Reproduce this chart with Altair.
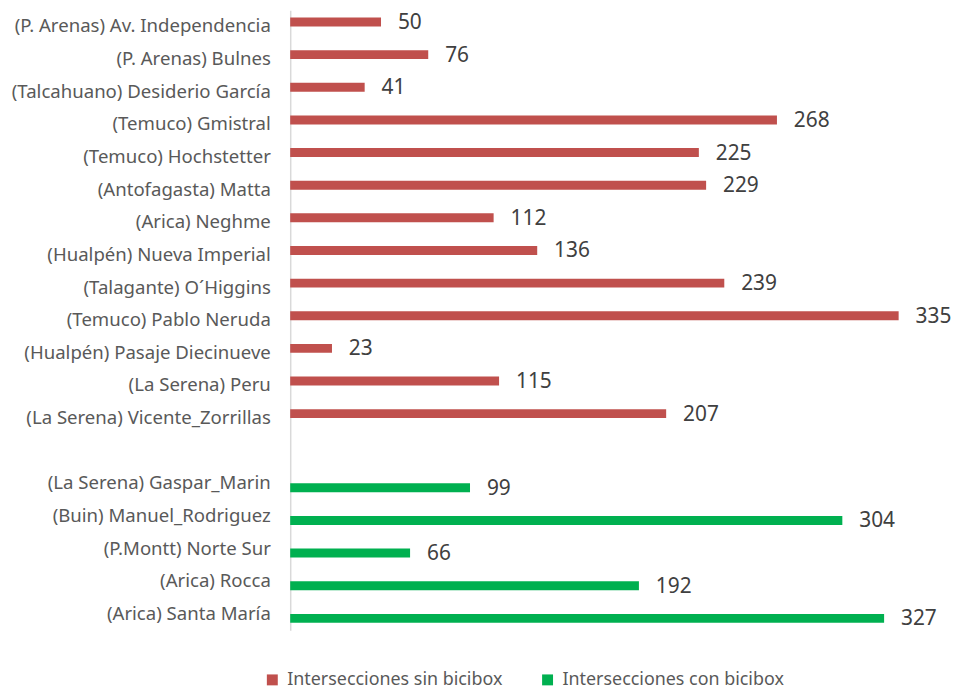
import altair as alt
import pandas as pd

sin_names = [
    "(P. Arenas) Av. Independencia",
    "(P. Arenas) Bulnes",
    "(Talcahuano) Desiderio García",
    "(Temuco) Gmistral",
    "(Temuco) Hochstetter",
    "(Antofagasta) Matta",
    "(Arica) Neghme",
    "(Hualpén) Nueva Imperial",
    "(Talagante) O´Higgins",
    "(Temuco) Pablo Neruda",
    "(Hualpén) Pasaje Diecinueve",
    "(La Serena) Peru",
    "(La Serena) Vicente_Zorrillas",
]
sin_values = [50, 76, 41, 268, 225, 229, 112, 136, 239, 335, 23, 115, 207]

con_names = [
    "(La Serena) Gaspar_Marin",
    "(Buin) Manuel_Rodriguez",
    "(P.Montt) Norte Sur",
    "(Arica) Rocca",
    "(Arica) Santa María",
]
con_values = [99, 304, 66, 192, 327]

series_names = ["Intersecciones sin bicibox", "Intersecciones con bicibox"]
series_colors = ["#C0504D", "#00B050"]

rows = []
for n, v in zip(sin_names, sin_values):
    rows.append({"cat": n, "value": v, "serie": series_names[0]})
for n, v in zip(con_names, con_values):
    rows.append({"cat": n, "value": v, "serie": series_names[1]})
df = pd.DataFrame(rows)

cat_domain = sin_names + [" "] + con_names
FONT = "Noto Sans"

y_enc = alt.Y(
    "cat:N",
    scale=alt.Scale(domain=cat_domain, paddingInner=0.454, paddingOuter=0.227),
    axis=alt.Axis(
        title=None,
        ticks=False,
        domainColor="#D9D9D9",
        domainWidth=1.5,
        labelFont=FONT,
        labelFontSize=18.7,
        labelColor="#595959",
        labelPadding=20,
        labelLimit=400,
    ),
)
yoff_enc = alt.YOffset("serie:N", scale=alt.Scale(domain=series_names, paddingInner=0, paddingOuter=0))
x_enc = alt.X("value:Q", scale=alt.Scale(domain=[0, 360], nice=False), axis=None)

bars = alt.Chart(df).mark_bar().encode(
    x=x_enc,
    y=y_enc,
    yOffset=yoff_enc,
    color=alt.Color(
        "serie:N",
        scale=alt.Scale(domain=series_names, range=series_colors),
        legend=alt.Legend(
            title=None,
            orient="none",
            direction="horizontal",
            legendX=-27,
            legendY=665,
            symbolType="square",
            symbolSize=121,
            symbolStrokeWidth=0,
            labelFont=FONT,
            labelFontSize=18,
            labelColor="#595959",
            labelOffset=6,
            labelLimit=400,
            columnPadding=36,
        ),
    ),
)

labels = alt.Chart(df).mark_text(
    align="left", baseline="middle", dx=17, dy=1, font=FONT, fontSize=21, color="#404040"
).encode(
    x=x_enc,
    y=y_enc,
    yOffset=yoff_enc,
    text=alt.Text("value:Q"),
)

chart = (
    alt.layer(bars, labels)
    .properties(
        width=658,
        height=624,
        autosize=alt.AutoSizeParams(type="none"),
        padding={"left": 284, "top": 0, "right": 7, "bottom": 58},
    )
    .configure_view(stroke=None)
)

chart.save("out.html", embed_options={"renderer": "svg", "actions": False})
